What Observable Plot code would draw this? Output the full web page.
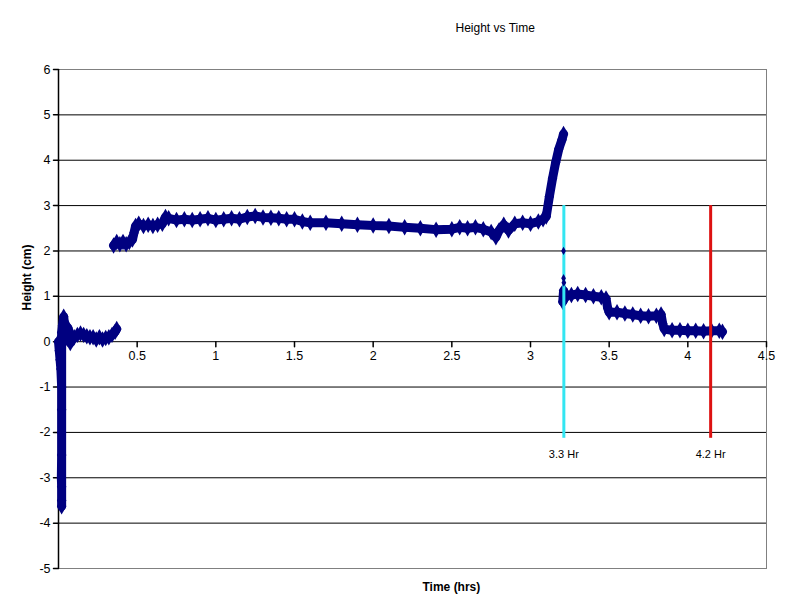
<!DOCTYPE html>
<html><head><meta charset="utf-8">
<script src="https://cdn.jsdelivr.net/npm/d3@7"></script>
<script src="https://cdn.jsdelivr.net/npm/@observablehq/plot@0.6"></script>
<style>body{margin:0;background:#fff}</style>
</head><body><div id="chart"></div>
<script>
// Segment 1: initial drop and noisy near-zero readings
const seg1T = [0.0,0.005,0.01,0.015,0.02,0.02,0.02,0.02,0.018,0.02,0.02,0.02,0.02,0.025,0.033,0.04,0.05,0.06,0.07,0.075,0.085,0.1,0.12,0.14,0.16,0.18,0.2,0.22,0.24,0.26,0.28,0.3,0.32,0.34,0.36,0.37];
const seg1H = [0.0,-0.2,-0.4,-0.6,-1.0,-1.5,-2.0,-2.5,-3.0,-3.2,-3.5,-3.63,0.2,0.35,0.55,0.35,0.3,0.3,0.2,-0.03,0.05,0.1,0.15,0.18,0.15,0.12,0.1,0.1,0.05,0.1,0.05,0.08,0.1,0.15,0.22,0.28];
// Segment 2: plateau ~2.6 cm then rise to peak
const seg2T = [0.35,0.37,0.39,0.41,0.43,0.45,0.47,0.48,0.49,0.51,0.54,0.57,0.6,0.63,0.66,0.68,0.7,0.75,0.8,0.85,0.9,0.95,1.0,1.05,1.1,1.15,1.2,1.25,1.3,1.35,1.4,1.45,1.5,1.55,1.6,1.7,1.8,1.9,2.0,2.1,2.2,2.3,2.4,2.5,2.55,2.6,2.65,2.7,2.75,2.78,2.8,2.83,2.86,2.9,2.95,3.0,3.05,3.08,3.1,3.12,3.14,3.16,3.18,3.2,3.21];
const seg2H = [2.12,2.2,2.15,2.2,2.15,2.2,2.25,2.4,2.55,2.6,2.55,2.58,2.55,2.58,2.6,2.75,2.72,2.68,2.7,2.68,2.7,2.72,2.68,2.7,2.72,2.7,2.75,2.77,2.74,2.73,2.72,2.7,2.7,2.65,2.62,2.62,2.6,2.58,2.56,2.55,2.52,2.5,2.47,2.48,2.52,2.5,2.52,2.48,2.42,2.3,2.45,2.58,2.45,2.6,2.62,2.6,2.65,2.7,2.76,3.2,3.6,3.95,4.25,4.45,4.58];
// Isolated points after the peak
const dropT = [3.21,3.21,3.212];
const dropH = [2.0,1.4,1.3];
// Segment 3: stepped decline after 3.2 hr
const seg3T = [3.205,3.21,3.215,3.23,3.26,3.3,3.35,3.4,3.45,3.48,3.49,3.5,3.55,3.6,3.65,3.7,3.75,3.8,3.83,3.84,3.85,3.9,3.95,4.0,4.05,4.1,4.15,4.2,4.22];
const seg3H = [0.88,1.12,0.95,1.02,1.03,1.05,1.03,1.0,0.98,0.95,0.75,0.65,0.65,0.62,0.6,0.57,0.56,0.57,0.6,0.4,0.28,0.25,0.25,0.24,0.24,0.23,0.24,0.24,0.22];

const xTicks = [0.5,1,1.5,2,2.5,3,3.5,4,4.5];
const yTicks = [-5,-4,-3,-2,-1,0,1,2,3,4,5,6];
const gridY = [-4,-3,-2,-1,0,1,2,3,4,5];
const markers = [
  {t: 3.212, top: 3, bottom: -2.13, label: "3.3 Hr", color: "#33e6f2"},
  {t: 4.145, top: 3, bottom: -2.13, label: "4.2 Hr", color: "#dd1111"}
];

const rows = [];
seg1T.forEach((t,i)=>rows.push({t, h: seg1H[i], s: 1}));
seg2T.forEach((t,i)=>rows.push({t, h: seg2H[i], s: 2}));
seg3T.forEach((t,i)=>rows.push({t, h: seg3H[i], s: 3}));
const drops = dropT.map((t,i)=>({t, h: dropH[i]}));

const tickShape = {draw(ctx, l){ ctx.moveTo(0,0); ctx.lineTo(0,-l); }};
const navy = "#000080";

const chart = Plot.plot({
  width: 789, height: 615,
  marginLeft: 58, marginRight: 23, marginTop: 69, marginBottom: 47,
  x: {domain: [0, 4.5], axis: null},
  y: {domain: [-5, 6], axis: null},
  style: {fontFamily: "'Liberation Sans', Arial, sans-serif", fontSize: "12px", background: "#fff", overflow: "visible"},
  marks: [
    Plot.ruleY(gridY, {stroke: "black", strokeWidth: 1}),
    Plot.frame({stroke: "#808080", strokeWidth: 1}),
    Plot.ruleX([0], {stroke: "black", strokeWidth: 1.5}),
    Plot.vector(yTicks, {x: 0, y: d => d, length: 5, rotate: -90, anchor: "start", shape: tickShape, stroke: "black"}),
    Plot.vector(xTicks, {x: d => d, y: 0, length: 5, rotate: 180, anchor: "start", shape: tickShape, stroke: "black"}),
    Plot.text(yTicks, {x: 0, y: d => d, text: d => String(d), dx: -8, textAnchor: "end", fill: "black", fontSize: 12.5}),
    Plot.text(xTicks, {x: d => d, y: 0, text: d => String(d), dy: 14, fill: "black", fontSize: 12.5}),
    Plot.line(rows, {x: "t", y: "h", z: "s", stroke: navy, strokeWidth: 9, strokeLinejoin: "round", strokeLinecap: "round", curve: "linear"}),
    Plot.dot(rows, {x: "t", y: "h", symbol: "diamond", r: 5, fill: navy}),
    Plot.ruleX(markers, {x: "t", y1: "top", y2: "bottom", stroke: "color", strokeWidth: 3}),
    Plot.dot(drops, {x: "t", y: "h", symbol: "diamond", r: 2.5, fill: navy}),
    Plot.text(markers, {x: "t", y: "bottom", text: "label", dy: 16, fill: "black", fontSize: 11}),
    Plot.text(["Height vs Time"], {frameAnchor: "top-left", dx: 397, dy: -46, fill: "black", fontSize: 12}),
    Plot.text(["Time (hrs)"], {frameAnchor: "bottom-left", dx: 364, dy: 22, fill: "black", fontSize: 12, fontWeight: "bold"}),
    Plot.text(["Height (cm)"], {frameAnchor: "top-left", dx: -36, dy: 241, rotate: -90, fill: "black", fontSize: 12, fontWeight: "bold"})
  ]
});
document.getElementById("chart").appendChild(chart);
</script>
</body></html>
